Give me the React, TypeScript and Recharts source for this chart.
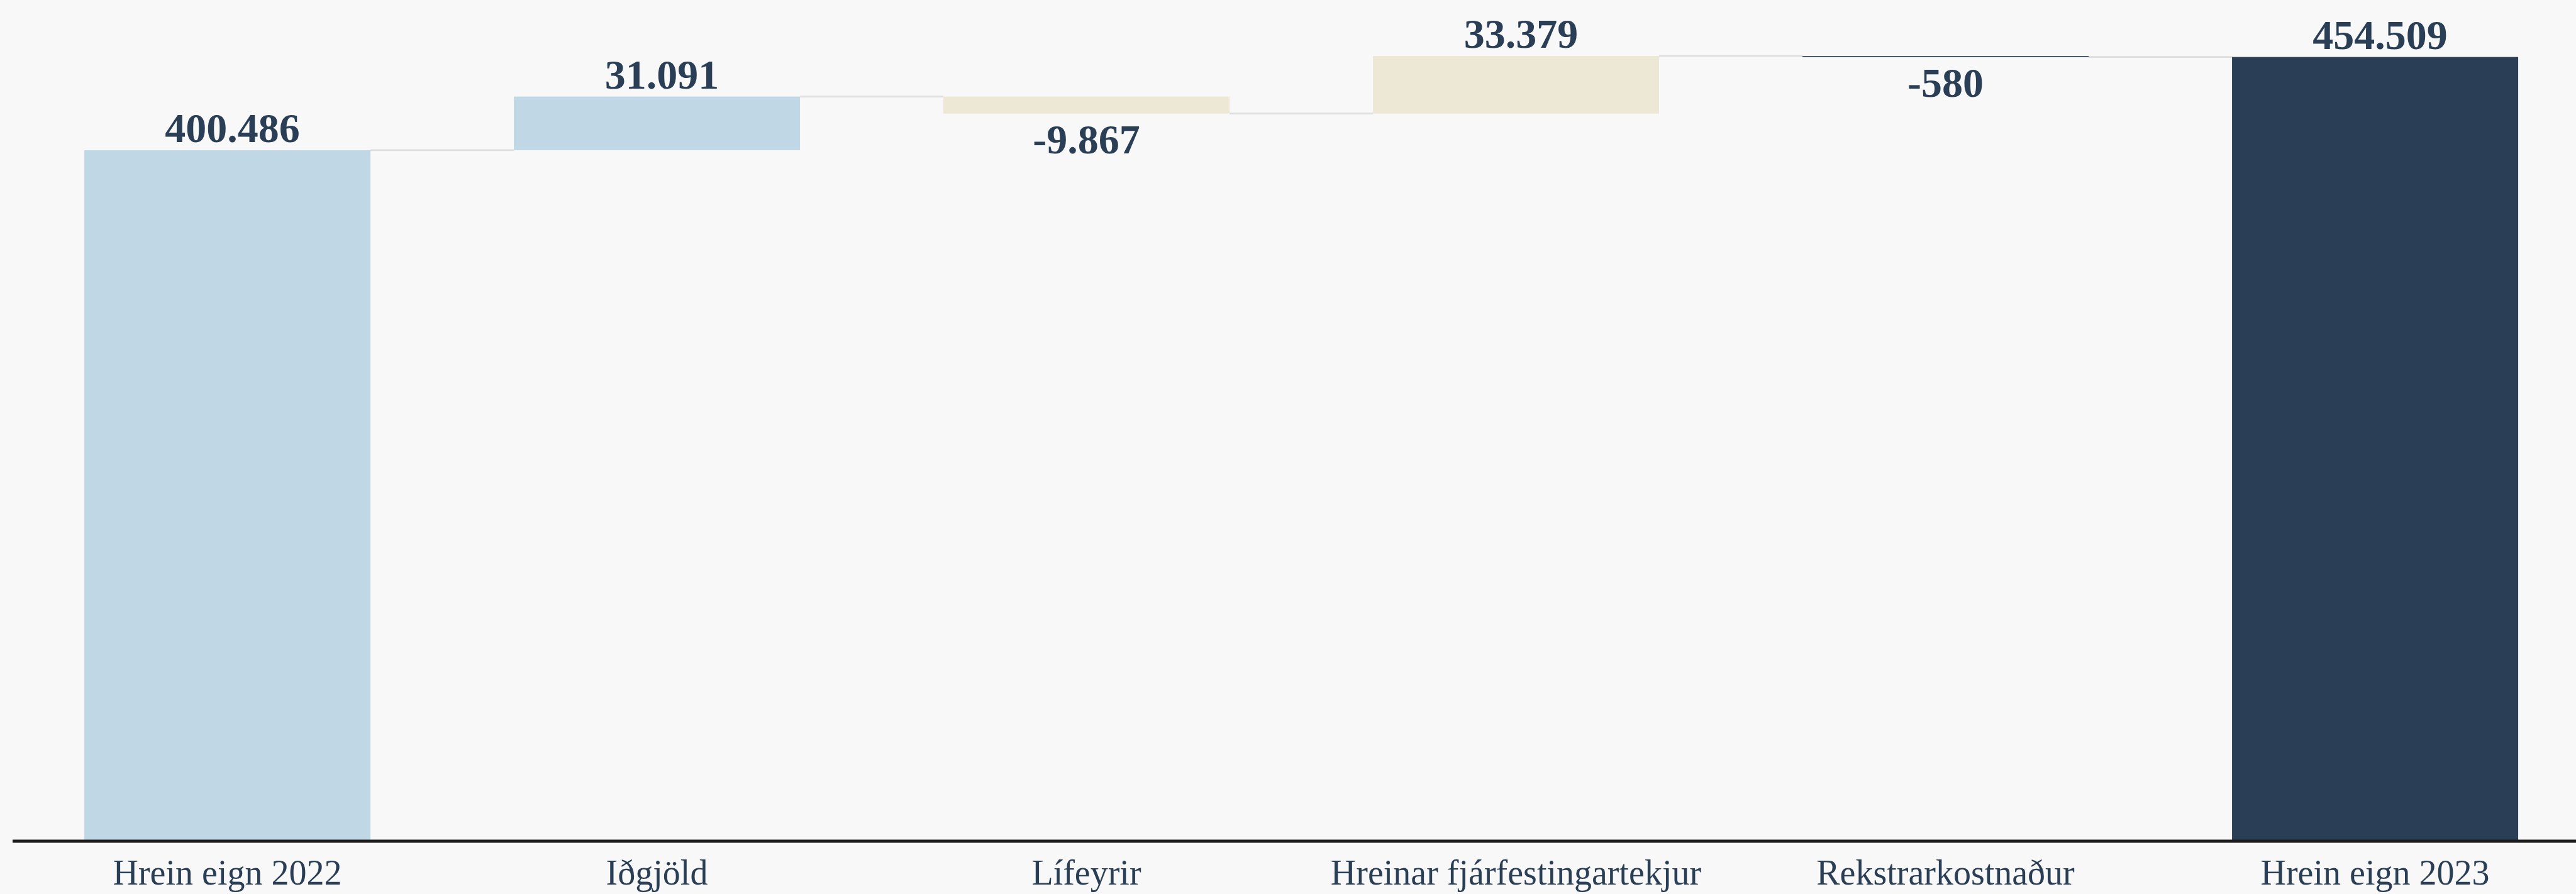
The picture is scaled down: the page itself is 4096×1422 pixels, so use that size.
import { Bar, Cell, ComposedChart, XAxis, YAxis } from "recharts"

const categories = [
  "Hrein eign 2022",
  "Iðgjöld",
  "Lífeyrir",
  "Hreinar fjárfestingartekjur",
  "Rekstrarkostnaður",
  "Hrein eign 2023",
]
const changes = [400486, 31091, -9867, 33379, -580, 454509]
const isTotal = [true, false, false, false, false, true]
const barColors = ["#c0d7e6", "#c0d7e6", "#ede7d5", "#ede7d5", "#2a3f56", "#2a3f56"]

const INK = "#2a3f56"
const BG = "#f8f8f8"
const SERIF = "'Liberation Serif', 'Times New Roman', serif"
const GAP_RATIO = 0.167

const fmt = (v: number) => v.toLocaleString("de-DE")

// waterfall rows: invisible base + visible delta
let running = 0
const rows = categories.map((name, i) => {
  const v = changes[i]
  let start = running
  let end = running + v
  if (isTotal[i]) {
    start = 0
    end = v
  }
  running = end
  return {
    name,
    base: Math.min(start, end),
    delta: Math.abs(v),
    value: v,
    last: i === categories.length - 1,
  }
})

// headroom above the tallest bar so the value labels stay inside the plot
const yMax = Math.max(...rows.map((r) => r.base + r.delta)) * 1.0713

function WaterfallBar(props: any) {
  const { x, y, width, height, fill, payload } = props
  const v = payload.value
  const band = width / (1 - 2 * GAP_RATIO)
  const gap = band - width
  const levelY = v >= 0 ? y : y + height
  const h = Math.max(height, 1.6)
  return (
    <g>
      <rect x={x} y={y} width={width} height={h} fill={fill} />
      {!payload.last && (
        <line x1={x + width} x2={x + width + gap} y1={levelY} y2={levelY} stroke="#dedede" strokeWidth={2.6} />
      )}
      {v >= 0 ? (
        <text x={x + width / 2 + 8} y={y - 13} textAnchor="middle" fill={INK} fontSize={66} fontWeight="bold" fontFamily={SERIF}>
          {fmt(v)}
        </text>
      ) : (
        <text x={x + width / 2} y={y + height + 63} textAnchor="middle" fill={INK} fontSize={66} fontWeight="bold" fontFamily={SERIF}>
          {fmt(v)}
        </text>
      )}
    </g>
  )
}

function CategoryTick(props: any) {
  const { x, y, payload } = props
  return (
    <text x={x} y={y + 69} textAnchor="middle" fill={INK} fontSize={56} fontFamily={SERIF}>
      {payload.value}
    </text>
  )
}

export default function App() {
  return (
    <div style={{ position: "absolute", left: 0, top: 0, width: 4096, height: 1422, overflow: "hidden", background: BG }}>
      <ComposedChart
        width={4118}
        height={1422}
        data={rows}
        margin={{ top: 0, right: 0, left: 20, bottom: 0 }}
        barCategoryGap="16.7%"
      >
        <XAxis
          dataKey="name"
          height={84}
          tick={<CategoryTick />}
          tickLine={false}
          tickSize={0}
          tickMargin={0}
          axisLine={{ stroke: "#1c1c1c", strokeWidth: 5 }}
          interval={0}
        />
        <YAxis hide type="number" domain={[0, yMax]} allowDataOverflow />
        <Bar dataKey="base" stackId="w" fill="transparent" isAnimationActive={false} />
        <Bar dataKey="delta" stackId="w" isAnimationActive={false} shape={<WaterfallBar />}>
          {rows.map((r, i) => (
            <Cell key={r.name} fill={barColors[i]} />
          ))}
        </Bar>
      </ComposedChart>
    </div>
  )
}
